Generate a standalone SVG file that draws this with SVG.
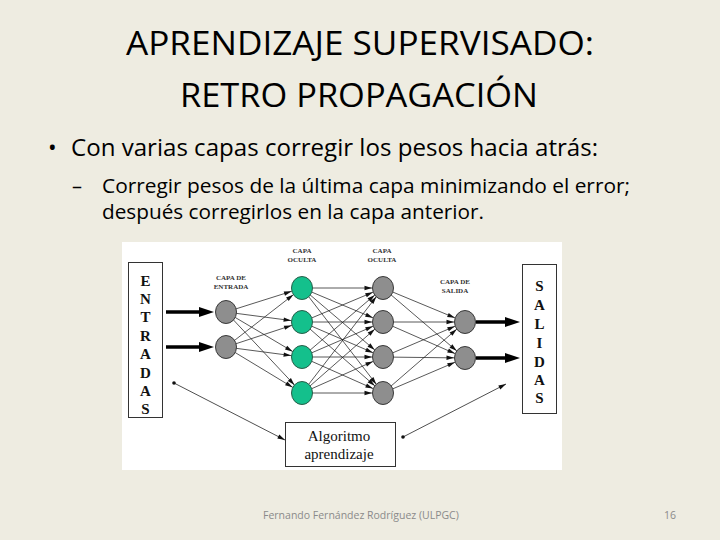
<svg xmlns="http://www.w3.org/2000/svg" width="720" height="540" viewBox="0 0 720 540">
<defs>
<style>
.ttl{font-family:"Open Sans","Liberation Sans",sans-serif;font-size:32px;fill:#000}
.b1{font-family:"Open Sans","Liberation Sans",sans-serif;font-size:23px;fill:#000}
.b2{font-family:"Open Sans","Liberation Sans",sans-serif;font-size:20px;fill:#000}
.foot{font-family:"Open Sans","Liberation Sans",sans-serif;font-size:10.5px;fill:#8a8a8a}
.lbl{font-family:"Liberation Serif",serif;font-size:7px;font-weight:bold;fill:#333;text-anchor:middle}
.big{font-family:"Liberation Serif",serif;font-size:15px;font-weight:bold;fill:#111;text-anchor:middle}
.alg{font-family:"Liberation Serif",serif;font-size:15px;fill:#111;text-anchor:middle}
.box{fill:#fff;stroke:#333;stroke-width:1}
.gray{fill:#8e8e8e;stroke:#3a3a3a;stroke-width:1}
.green{fill:#14c08c;stroke:#2b5e4a;stroke-width:1}
.c{stroke:#222;stroke-width:0.75;fill:none;marker-end:url(#arr)}
.thick{stroke:#000;stroke-width:3.5;fill:none;marker-end:url(#bigarr)}
.dl{stroke:#222;stroke-width:0.8;fill:none;marker-start:url(#dot);marker-end:url(#arrE)}
</style>
<marker id="arr" markerUnits="userSpaceOnUse" markerWidth="20" markerHeight="5" refX="18.5" refY="2.2" orient="auto" overflow="visible">
<path d="M0,0 L7.5,2.2 L0,4.4 z" fill="#111"/>
</marker>
<marker id="arrE" markerUnits="userSpaceOnUse" markerWidth="8" markerHeight="5" refX="7.5" refY="2.2" orient="auto" overflow="visible">
<path d="M0,0 L7.5,2.2 L0,4.4 z" fill="#111"/>
</marker>
<marker id="bigarr" markerUnits="userSpaceOnUse" markerWidth="15" markerHeight="10" refX="2" refY="5" orient="auto" overflow="visible">
<path d="M0,0 L15,5 L0,10 z" fill="#000"/>
</marker>
<marker id="dot" markerUnits="userSpaceOnUse" markerWidth="4" markerHeight="4" refX="2" refY="2" overflow="visible">
<circle cx="2" cy="2" r="1.8" fill="#111"/>
</marker>
</defs>
<rect x="0" y="0" width="720" height="540" fill="#eeece1"/>

<g id="title">
<text class="ttl" x="360" y="55" text-anchor="middle" textLength="468" lengthAdjust="spacingAndGlyphs">APRENDIZAJE SUPERVISADO:</text>
<text class="ttl" x="359" y="107" text-anchor="middle" textLength="358" lengthAdjust="spacingAndGlyphs">RETRO PROPAGACIÓN</text>
</g>

<g id="bullets">
<text class="b1" x="48" y="156">•</text>
<text class="b1" x="71" y="156" textLength="527" lengthAdjust="spacingAndGlyphs">Con varias capas corregir los pesos hacia atrás:</text>
<text class="b2" x="72" y="193">–</text>
<text class="b2" x="102" y="193" textLength="528" lengthAdjust="spacingAndGlyphs">Corregir pesos de la última capa minimizando el error;</text>
<text class="b2" x="102" y="219" textLength="382" lengthAdjust="spacingAndGlyphs">después corregirlos en la capa anterior.</text>
</g>

<rect x="122" y="242" width="440" height="228" fill="#fff"/>

<g id="connectors">
<line class="c" x1="226" y1="312" x2="302" y2="288"/>
<line class="c" x1="226" y1="312" x2="302" y2="322"/>
<line class="c" x1="226" y1="312" x2="302" y2="357"/>
<line class="c" x1="226" y1="312" x2="302" y2="393"/>
<line class="c" x1="226" y1="347" x2="302" y2="288"/>
<line class="c" x1="226" y1="347" x2="302" y2="322"/>
<line class="c" x1="226" y1="347" x2="302" y2="357"/>
<line class="c" x1="226" y1="347" x2="302" y2="393"/>
<line class="c" x1="302" y1="288" x2="383" y2="288"/>
<line class="c" x1="302" y1="288" x2="383" y2="322"/>
<line class="c" x1="302" y1="288" x2="383" y2="357"/>
<line class="c" x1="302" y1="288" x2="383" y2="393"/>
<line class="c" x1="302" y1="322" x2="383" y2="288"/>
<line class="c" x1="302" y1="322" x2="383" y2="322"/>
<line class="c" x1="302" y1="322" x2="383" y2="357"/>
<line class="c" x1="302" y1="322" x2="383" y2="393"/>
<line class="c" x1="302" y1="357" x2="383" y2="288"/>
<line class="c" x1="302" y1="357" x2="383" y2="322"/>
<line class="c" x1="302" y1="357" x2="383" y2="357"/>
<line class="c" x1="302" y1="357" x2="383" y2="393"/>
<line class="c" x1="302" y1="393" x2="383" y2="288"/>
<line class="c" x1="302" y1="393" x2="383" y2="322"/>
<line class="c" x1="302" y1="393" x2="383" y2="357"/>
<line class="c" x1="302" y1="393" x2="383" y2="393"/>
<line class="c" x1="383" y1="288" x2="465" y2="322"/>
<line class="c" x1="383" y1="288" x2="465" y2="358"/>
<line class="c" x1="383" y1="322" x2="465" y2="322"/>
<line class="c" x1="383" y1="322" x2="465" y2="358"/>
<line class="c" x1="383" y1="357" x2="465" y2="322"/>
<line class="c" x1="383" y1="357" x2="465" y2="358"/>
<line class="c" x1="383" y1="393" x2="465" y2="322"/>
<line class="c" x1="383" y1="393" x2="465" y2="358"/>
<line class="thick" x1="166" y1="312" x2="201" y2="312"/>
<line class="thick" x1="166" y1="347" x2="201" y2="347"/>
<line class="thick" x1="476" y1="322" x2="507" y2="322"/>
<line class="thick" x1="476" y1="358" x2="507" y2="358"/>
<line class="dl" x1="174" y1="383" x2="285" y2="440"/>
<line class="dl" x1="403" y1="437" x2="506" y2="384"/>
</g>

<g id="entradas">
<rect class="box" x="128.5" y="262.5" width="34" height="155"/>
<text class="big" x="145.5" y="286">E</text>
<text class="big" x="145.5" y="304">N</text>
<text class="big" x="145.5" y="322">T</text>
<text class="big" x="145.5" y="341">R</text>
<text class="big" x="145.5" y="359">A</text>
<text class="big" x="145.5" y="378">D</text>
<text class="big" x="145.5" y="396">A</text>
<text class="big" x="145.5" y="414">S</text>
</g>

<g id="salidas">
<rect class="box" x="522.5" y="264.5" width="34" height="149"/>
<text class="big" x="539.5" y="291">S</text>
<text class="big" x="539.5" y="310">A</text>
<text class="big" x="539.5" y="329">L</text>
<text class="big" x="539.5" y="348">I</text>
<text class="big" x="539.5" y="367">D</text>
<text class="big" x="539.5" y="385">A</text>
<text class="big" x="539.5" y="403">S</text>
</g>

<g id="algoritmo">
<rect class="box" x="285.5" y="422.5" width="110" height="44"/>
<text class="alg" x="339" y="441">Algoritmo</text>
<text class="alg" x="339" y="459">aprendizaje</text>
</g>

<g id="capa-entrada">
<text class="lbl" x="231" y="280">CAPA DE</text>
<text class="lbl" x="231" y="289">ENTRADA</text>
<ellipse class="gray" cx="226" cy="312" rx="10.5" ry="11.5"/>
<ellipse class="gray" cx="226" cy="347" rx="10.5" ry="11.5"/>
</g>

<g id="capa-oculta-1">
<text class="lbl" x="302" y="253">CAPA</text>
<text class="lbl" x="302" y="262">OCULTA</text>
<ellipse class="green" cx="302" cy="288" rx="10.5" ry="11.5"/>
<ellipse class="green" cx="302" cy="322" rx="10.5" ry="11.5"/>
<ellipse class="green" cx="302" cy="357" rx="10.5" ry="11.5"/>
<ellipse class="green" cx="302" cy="393" rx="10.5" ry="11.5"/>
</g>

<g id="capa-oculta-2">
<text class="lbl" x="382" y="253">CAPA</text>
<text class="lbl" x="382" y="262">OCULTA</text>
<ellipse class="gray" cx="383" cy="288" rx="10.5" ry="11.5"/>
<ellipse class="gray" cx="383" cy="322" rx="10.5" ry="11.5"/>
<ellipse class="gray" cx="383" cy="357" rx="10.5" ry="11.5"/>
<ellipse class="gray" cx="383" cy="393" rx="10.5" ry="11.5"/>
</g>

<g id="capa-salida">
<text class="lbl" x="455" y="284">CAPA DE</text>
<text class="lbl" x="455" y="293">SALIDA</text>
<ellipse class="gray" cx="465" cy="322" rx="10.5" ry="11.5"/>
<ellipse class="gray" cx="465" cy="358" rx="10.5" ry="11.5"/>
</g>

<g id="footer">
<text class="foot" x="263" y="519">Fernando Fernández Rodríguez (ULPGC)</text>
<text class="foot" x="664" y="519">16</text>
</g>
</svg>
